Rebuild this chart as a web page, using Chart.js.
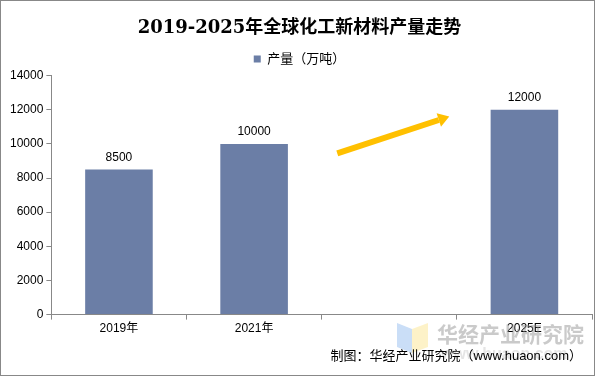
<!DOCTYPE html>
<html>
<head>
<meta charset="utf-8">
<script src="https://cdn.jsdelivr.net/npm/chart.js@4.4.1/dist/chart.umd.min.js"></script>
<style>
    html, body { margin: 0; padding: 0; background: #fff; }
    #wrap { position: relative; width: 593px; height: 374px; border: 1px solid #888; }
</style>
</head>
<body>
<div id="wrap"><canvas id="chart" width="593" height="374"></canvas></div>
<script>
// Chart data.
const categories = ['2019年', '2021年', '', '2025E'];
const output = [8500, 10000, null, 12000];
const seriesLabel = '产量（万吨）';
const yTicks = [0, 2000, 4000, 6000, 8000, 10000, 12000, 14000];

const barColor = '#6B7EA6';
const cjkFont = '"Liberation Sans", "Noto Sans CJK SC", sans-serif';

// Draws the value over each bar, the trend arrow in the empty slot and the source note.
const extrasPlugin = {
    id: 'extras',
    afterDatasetsDraw(chart) {
        const { ctx } = chart;
        const meta = chart.getDatasetMeta(0);
        ctx.save();
        ctx.font = '12px ' + cjkFont;
        ctx.fillStyle = '#000';
        ctx.textAlign = 'center';
        ctx.textBaseline = 'bottom';
        meta.data.forEach((bar, i) => {
            if (output[i] !== null) {
                ctx.fillText(String(output[i]), bar.x, bar.y - 6);
            }
        });

        // Yellow arrow across the gap between 2021 and 2025E.
        const xs = chart.scales.x;
        const ys = chart.scales.y;
        const cx = xs.getPixelForValue(2);
        const x0 = cx - 52, y0 = ys.getPixelForValue(9450);
        const x1 = cx + 60, y1 = ys.getPixelForValue(11600);
        const ang = Math.atan2(y1 - y0, x1 - x0);
        const head = 11;
        const bx = x1 - head * Math.cos(ang), by = y1 - head * Math.sin(ang);
        ctx.strokeStyle = '#FFC000';
        ctx.fillStyle = '#FFC000';
        ctx.lineWidth = 6;
        ctx.beginPath();
        ctx.moveTo(x0, y0);
        ctx.lineTo(bx, by);
        ctx.stroke();
        ctx.beginPath();
        ctx.moveTo(x1, y1);
        ctx.lineTo(bx + 7 * Math.sin(ang), by - 7 * Math.cos(ang));
        ctx.lineTo(bx - 7 * Math.sin(ang), by + 7 * Math.cos(ang));
        ctx.closePath();
        ctx.fill();
        ctx.restore();
    },
    afterDraw(chart) {
        const { ctx } = chart;
        ctx.save();
        // Watermark logo and name.
        ctx.globalAlpha = 0.55;
        ctx.fillStyle = '#9EC3F0';
        ctx.beginPath();
        ctx.moveTo(396, 322); ctx.lineTo(411, 328); ctx.lineTo(411, 352); ctx.lineTo(396, 346);
        ctx.closePath(); ctx.fill();
        ctx.fillStyle = '#FBE89A';
        ctx.beginPath();
        ctx.moveTo(411, 328); ctx.lineTo(427, 322); ctx.lineTo(427, 346); ctx.lineTo(411, 352);
        ctx.closePath(); ctx.fill();
        ctx.globalAlpha = 0.45;
        ctx.fillStyle = '#8A8A8A';
        ctx.font = 'bold 21px "Noto Sans CJK SC", sans-serif';
        ctx.textAlign = 'left';
        ctx.textBaseline = 'middle';
        ctx.fillText('华经产业研究院', 436, 333);
        ctx.globalAlpha = 0.22;
        ctx.font = 'bold 16px "Liberation Sans", sans-serif';
        ctx.fillText('www.huaon.com', 440, 354);
        ctx.restore();

        ctx.save();
        ctx.fillStyle = '#000';
        ctx.font = '13px ' + cjkFont;
        ctx.textAlign = 'right';
        ctx.textBaseline = 'middle';
        ctx.fillText('制图：华经产业研究院（www.huaon.com）', 581, 355);
        ctx.restore();
    },
};

new Chart(document.getElementById('chart'), {
    type: 'bar',
    data: {
        labels: categories,
        datasets: [{
            label: seriesLabel,
            data: output,
            backgroundColor: barColor,
            categoryPercentage: 1,
            barPercentage: 0.5,
        }],
    },
    options: {
        responsive: false,
        animation: false,
        devicePixelRatio: 1,
        layout: { padding: { left: 6, right: 2, top: 6, bottom: 37 } },
        plugins: {
            title: {
                display: true,
                text: '2019-2025年全球化工新材料产量走势',
                color: '#000',
                font: { family: '"DejaVu Serif", "Noto Sans CJK SC", serif', size: 18, weight: 'bold' },
                padding: { top: 11, bottom: 8 },
            },
            legend: {
                display: true,
                labels: {
                    color: '#000',
                    boxWidth: 7,
                    boxHeight: 7,
                    padding: 5,
                    font: { family: cjkFont, size: 13 },
                },
            },
            tooltip: { enabled: false },
        },
        scales: {
            x: {
                grid: {
                    display: true,
                    drawOnChartArea: false,
                    offset: true,
                    tickLength: 5,
                    color: '#888',
                },
                border: { color: '#888' },
                ticks: { color: '#000', font: { family: cjkFont, size: 12 }, padding: 2 },
            },
            y: {
                min: 0,
                max: 14000,
                afterBuildTicks: (scale) => { scale.ticks = yTicks.map(v => ({ value: v })); },
                grid: {
                    display: true,
                    drawOnChartArea: false,
                    tickLength: 5,
                    color: '#888',
                },
                border: { color: '#888' },
                ticks: {
                    color: '#000',
                    font: { family: cjkFont, size: 12 },
                    padding: 3,
                    callback: (v) => String(v),
                },
            },
        },
    },
    plugins: [extrasPlugin],
});
</script>
</body>
</html>
